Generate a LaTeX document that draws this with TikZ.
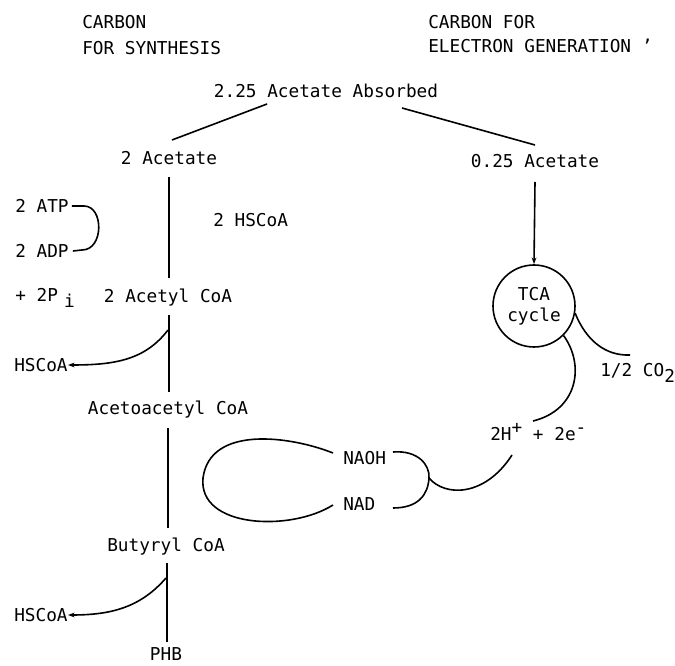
\documentclass[tikz,border=0pt]{standalone}
\usepackage{fontspec}
\setmainfont{DejaVu Sans Mono}
\usetikzlibrary{arrows.meta}
\begin{document}
\begin{tikzpicture}[x=0.75pt,y=-0.75pt,
  lbl/.style={inner sep=0pt,font=\fontsize{13.3}{15}\selectfont},
  ln/.style={line width=1.2pt},
  arr/.style={line width=1.2pt,-{Stealth[length=5pt,width=3.5pt]}}]
\useasboundingbox (0,0) rectangle (675,666);
% headings
\node[lbl,anchor=west] (cs1) at (82,22) {CARBON};
\node[lbl,anchor=west] (cs2) at (82,48) {FOR SYNTHESIS};
\node[lbl,anchor=west] (ce1) at (428,22) {CARBON FOR};
\node[lbl,anchor=west] (ce2) at (428,46) {ELECTRON GENERATION '};
% top
\node[lbl] (abs) at (326,91) {2.25 Acetate Absorbed};
\node[lbl] (ac2) at (169,158) {2 Acetate};
\node[lbl] (ac025) at (535,161) {0.25 Acetate};
\coordinate (absL) at (267,104);
\coordinate (absR) at (402,108);
\coordinate (ac2t) at (172,140);
\coordinate (ac025t) at (535,145);
\draw[ln] (absL) -- (ac2t);
\draw[ln] (absR) -- (ac025t);
% left column
\node[lbl,anchor=west] (atp) at (15,206) {2 ATP};
\node[lbl,anchor=west] (adp) at (15,251) {2 ADP};
\node[lbl,anchor=west] (hscoa1) at (213,220) {2 HSCoA};
\node[lbl,anchor=west] (pi) at (15,298) {+ 2P\raisebox{-5pt}{\hspace{0.35em}i}};
\node[lbl] (acoa) at (168,298) {2 Acetyl CoA};
\node[lbl,anchor=west] (hs2) at (14,365) {HSCoA};
\node[lbl] (aacoa) at (168,410) {Acetoacetyl CoA};
\node[lbl] (bcoa) at (166,547) {Butyryl CoA};
\node[lbl,anchor=west] (hs3) at (14,615) {HSCoA};
\node[lbl] (phb) at (166,654) {PHB};
% main line segments
\draw[ln] (169,177) -- (169,278);
\draw[ln] (169,315) -- (169,392);
\draw[ln] (168,428) -- (168,528);
\draw[ln] (167,563) -- (167,642);
% ATP/ADP bracket
\draw[ln] (atp.east) ++(3,0) -- (84,206) .. controls (104,206) and (104,250) .. (82,250) -- ([xshift=3pt]adp.east);
% HSCoA side arrows
\draw[arr] (168,330) .. controls (145,360) and (115,365) .. (hs2.east);
\draw[arr] (166,578) .. controls (140,608) and (110,615) .. (hs3.east);
% TCA
\node[draw,circle,line width=1.2pt,minimum size=82pt*0.75,inner sep=0pt,lbl,align=center] (tca) at (534,306) {TCA\\[1pt]cycle};
\draw[arr] (535,182) -- (tca.north);
\node[lbl,anchor=west] (co2) at (600,373) {1/2 CO\raisebox{-4pt}{2}};
\node[lbl,anchor=west] (hplus) at (490,432) {2H\raisebox{5pt}{+} + 2e\raisebox{5pt}{-}};
\draw[ln] (tca.-10) .. controls (586,340) and (605,356) .. (630,355);
\draw[ln] (tca.-45) .. controls (585,365) and (578,410) .. (533,421);
% NADH loop
\node[lbl,anchor=west] (nadh) at (343,458) {NAOH};
\node[lbl,anchor=west] (nad) at (343,504) {NAD};
\draw[ln] (333,453) .. controls (290,436) and (210,425) .. (203,478) .. controls (198,528) and (290,532) .. (333,505);
\draw[ln] (393,452) .. controls (418,450) and (430,465) .. (429,478) .. controls (428,495) and (418,508) .. (393,508);
\draw[ln] (429,478) .. controls (445,497) and (485,497) .. (512,455);
\end{tikzpicture}
\end{document}
